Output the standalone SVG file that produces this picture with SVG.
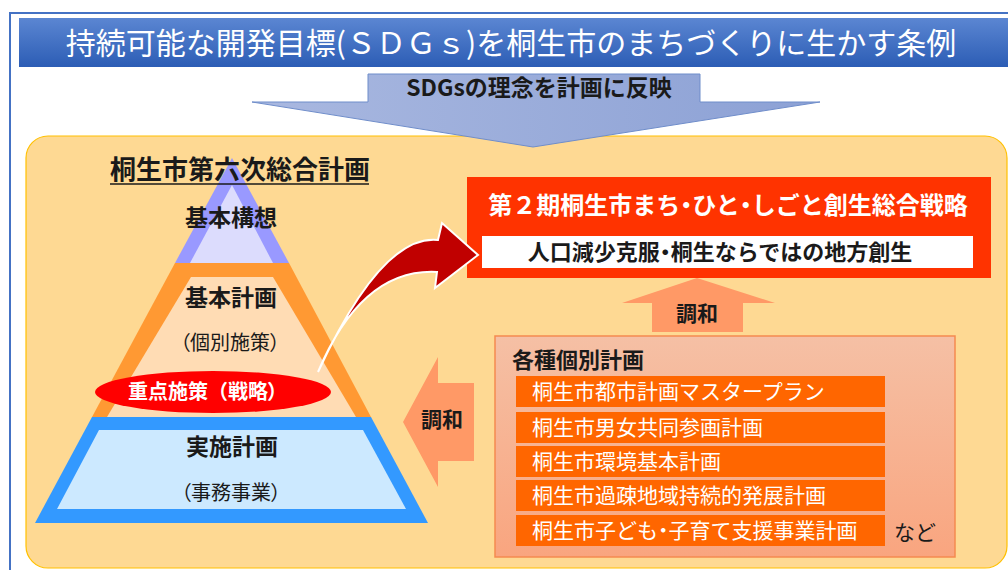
<svg xmlns="http://www.w3.org/2000/svg" width="1008" height="570" viewBox="0 0 1008 570">
<defs>
<linearGradient id="gBanner" x1="0" y1="0" x2="0" y2="1">
<stop offset="0" stop-color="#5b86d2"/>
<stop offset="1" stop-color="#2c5db5"/>
</linearGradient>
<linearGradient id="gDown" x1="0" y1="0" x2="1" y2="0">
<stop offset="0" stop-color="#a9b8e0"/>
<stop offset="1" stop-color="#8ca1d5"/>
</linearGradient>
<linearGradient id="gPlans" x1="0" y1="0" x2="0" y2="1">
<stop offset="0" stop-color="#f5c0a5"/>
<stop offset="1" stop-color="#f9a57f"/>
</linearGradient>
</defs>
<style>
text{font-family:"Noto Sans CJK JP","Noto Sans",sans-serif;}
.b{font-weight:700;}
.k{fill:#1a1a1a;}
.w{fill:#ffffff;}
.m{text-anchor:middle;}
.p{font-feature-settings:"palt";}
.bar{fill:#ff6600;}
.harm{fill:#ff9966;}
</style>

<g id="frame">
<rect x="10" y="13" width="1010" height="580" fill="#ffffff" stroke="#4472c4" stroke-width="2"/>
</g>

<g id="title">
<rect x="19" y="18" width="1000" height="49" fill="url(#gBanner)"/>
<text class="w m" x="511" y="54" font-size="30">持続可能な開発目標(ＳＤＧｓ)を桐生市のまちづくりに生かす条例</text>
</g>

<g id="mainArea">
<rect x="26" y="136" width="981" height="432" rx="22" fill="#fed993" stroke="#ffc000" stroke-width="1.2"/>
</g>

<g id="reflectArrow">
<polygon points="368,74 700,74 700,102 820,102 533,147 252,102 368,102" fill="url(#gDown)" stroke="#6f8dca" stroke-width="1"/>
<text class="b k m" x="539" y="96" font-size="23">SDGsの理念を計画に反映</text>
</g>

<g id="kihonKoso">
<polygon points="232,158 289,263 175,263" fill="#9999ff"/>
<polygon points="232,185 273,263 190,263" fill="#dcdcfd"/>
<text class="b k m" x="231" y="226" font-size="23">基本構想</text>
</g>

<g id="kihonKeikaku">
<polygon points="175,263 289,263 371,417 92,417" fill="#ff9933"/>
<polygon points="191,277 273,277 356,417 107,417" fill="#ffdcb4"/>
<text class="b k m" x="231" y="306" font-size="23">基本計画</text>
<text class="k m p" x="230" y="350" font-size="20">（個別施策）</text>
</g>

<g id="jisshiKeikaku">
<polygon points="92,417 371,417 428,523 35,523" fill="#3399ff"/>
<polygon points="99,430 363,430 406,509 57,509" fill="#cce9ff"/>
<text class="b k m" x="232" y="455" font-size="23">実施計画</text>
<text class="k m p" x="231" y="500" font-size="20">（事務事業）</text>
</g>

<g id="juten">
<ellipse cx="213" cy="392" rx="118" ry="21" fill="#ff0000"/>
<text class="b w" x="128" y="399" font-size="20">重点施策（戦略<tspan class="p">）</tspan></text>
</g>

<g id="pyramidTitle">
<text class="b k m" x="240" y="179" font-size="26">桐生市第六次総合計画</text>
<line x1="110" y1="184" x2="369" y2="184" stroke="#1a1a1a" stroke-width="1.5"/>
</g>

<g id="senryaku">
<rect x="467" y="177" width="524" height="101" fill="#ff3300"/>
<text class="b w m" x="728" y="214" font-size="24">第２期桐生市まち<tspan class="p">・</tspan>ひと<tspan class="p">・</tspan>しごと創生総合戦略</text>
<rect x="482" y="236" width="491" height="32" fill="#ffffff"/>
<text class="b k m" x="720" y="260" font-size="22">人口減少克服<tspan class="p">・</tspan>桐生ならではの地方創生</text>
</g>

<g id="kobetsu">
<rect x="495" y="336" width="460" height="221" fill="url(#gPlans)" stroke="#f58a50" stroke-width="1.5"/>
<text class="b k" x="512" y="368" font-size="22">各種個別計画</text>
<rect class="bar" x="516" y="376" width="369" height="31"/>
<text class="w" x="532" y="399" font-size="21">桐生市都市計画マスタープラン</text>
<rect class="bar" x="516" y="412" width="369" height="31"/>
<text class="w" x="532" y="435" font-size="21">桐生市男女共同参画計画</text>
<rect class="bar" x="516" y="446" width="369" height="31"/>
<text class="w" x="532" y="469" font-size="21">桐生市環境基本計画</text>
<rect class="bar" x="516" y="480" width="369" height="31"/>
<text class="w" x="532" y="503" font-size="21">桐生市過疎地域持続的発展計画</text>
<rect class="bar" x="516" y="515" width="369" height="31"/>
<text class="w" x="532" y="538" font-size="21">桐生市子ども<tspan class="p">・</tspan>子育て支援事業計画</text>
<text class="k" x="894" y="540" font-size="21">など</text>
</g>

<g id="connectors">
<path d="M318,372 Q382,234 438,240 L442,223 L478,255 L435,288 L437,272 Q362,268 318,372 Z" fill="#c00000" stroke="#ffffff" stroke-width="2" stroke-linejoin="miter"/>
<polygon class="harm" points="697,278 775,303 743,303 743,332 652,332 652,303 622,303"/>
<text class="b k m" x="697" y="321" font-size="21">調和</text>
<polygon class="harm" points="403,422 438,357 438,383 474,383 474,461 438,461 438,487"/>
<text class="b k m" x="442" y="427" font-size="21">調和</text>
</g>
</svg>
